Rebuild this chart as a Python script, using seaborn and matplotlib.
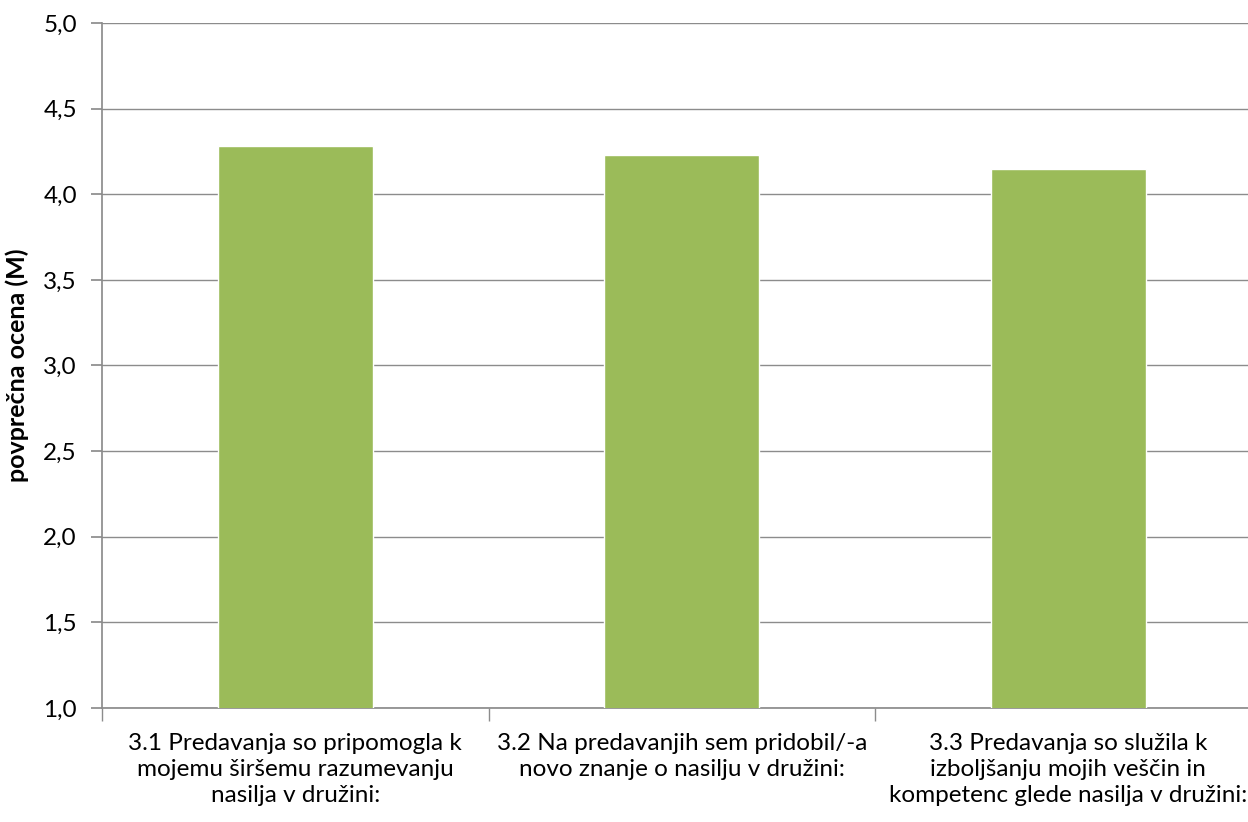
import numpy as np
import pandas as pd
import matplotlib.pyplot as plt
import seaborn as sns
from matplotlib.ticker import FixedLocator, FuncFormatter

sns.set_theme(style="white")
plt.rcParams['font.family'] = ['Lato', 'DejaVu Sans']

# Podatki
kategorije = [
    "3.1 Predavanja so pripomogla k\nmojemu širšemu razumevanju\nnasilja v družini:",
    "3.2 Na predavanjih sem pridobil/-a\nnovo znanje o nasilju v družini:",
    "3.3 Predavanja so služila k\nizboljšanju mojih veščin in\nkompetenc glede nasilja v družini:",
]
povprecja = [4.28, 4.23, 4.15]
y_ticks = [1.0, 1.5, 2.0, 2.5, 3.0, 3.5, 4.0, 4.5, 5.0]

df = pd.DataFrame({'kategorija': kategorije, 'ocena': povprecja})

fig = plt.figure(figsize=(12.48, 8.22), dpi=100)
ax = fig.add_axes([102 / 1248, 114 / 822, 1159.5 / 1248, 685 / 822])

sns.barplot(data=df, x='kategorija', y='ocena', color='#9BBB59', saturation=1,
            width=0.4, ax=ax, zorder=3)

ax.set_ylim(1, 5)
ax.set_xlim(-0.5, 2.5)
ax.set_yticks(y_ticks)
ax.yaxis.set_major_formatter(FuncFormatter(lambda v, p: f"{v:.1f}".replace('.', ',')))
ax.grid(axis='y', color='#8C8C8C', linewidth=1, zorder=0)

for s in ['top', 'right']:
    ax.spines[s].set_visible(False)
ax.spines['left'].set_color('#8C8C8C')
ax.spines['bottom'].set_color('#8C8C8C')

ax.tick_params(axis='y', which='major', length=8, color='#8C8C8C', labelsize=17.5, pad=10,
               left=True, labelcolor='black')
ax.tick_params(axis='x', which='major', length=0, labelsize=17.5, pad=18, labelcolor='black')
ax.xaxis.set_minor_locator(FixedLocator([-0.5, 0.5, 1.5, 2.5]))
ax.tick_params(axis='x', which='minor', length=9, color='#8C8C8C', bottom=True, direction='out')
for lbl in ax.get_xticklabels():
    lbl.set_linespacing(1.3)

ax.set_xlabel('')
ax.set_ylabel('povprečna ocena (M)', fontsize=18, fontweight='bold', labelpad=10, color='black')

fig.savefig('out.png', dpi=100)
